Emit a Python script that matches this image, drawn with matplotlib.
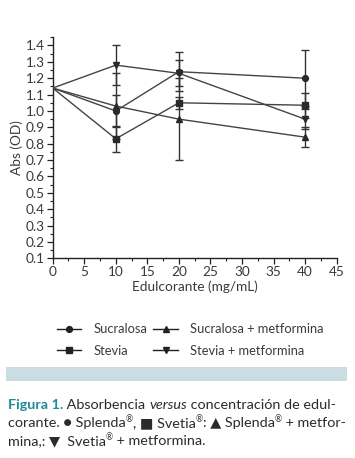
import matplotlib
matplotlib.use("Agg")
import matplotlib.pyplot as plt
from matplotlib.ticker import MultipleLocator
from matplotlib.lines import Line2D

# ---- data ----
conc = [0, 10, 20, 40]
sucralosa = [1.14, 1.00, 1.24, 1.20]
sucralosa_err = [0.0, 0.10, 0.12, 0.17]
stevia = [1.14, 0.83, 1.05, 1.035]
stevia_err = [0.0, 0.08, 0.035, 0.075]
sucralosa_met = [1.14, 1.03, 0.95, 0.84]
sucralosa_met_err = [0.0, 0.20, 0.25, 0.06]
stevia_met = [1.14, 1.28, 1.23, 0.95]
stevia_met_err = [0.0, 0.12, 0.08, 0.06]

labels = ["Sucralosa", "Stevia", "Sucralosa + metformina", "Stevia + metformina"]
series = [sucralosa, stevia, sucralosa_met, stevia_met]
errors = [sucralosa_err, stevia_err, sucralosa_met_err, stevia_met_err]
markers = ["o", "s", "^", "v"]

FONT = ["Lato", "DejaVu Sans"]
plt.rcParams["font.family"] = FONT

W, H = 355, 458
fig = plt.figure(figsize=(W / 100, H / 100), dpi=100)
fig.patch.set_facecolor("white")

ax = fig.add_axes([52.7 / W, 1 - 258.3 / H, (336.7 - 52.7) / W, (258.3 - 37.3) / H])
ax.set_facecolor("white")

line_col = "#444444"
handles = []
for ys, es, m, lab in zip(series, errors, markers, labels):
    ax.errorbar(conc[1:], ys[1:], yerr=es[1:], fmt="none", ecolor="#333333",
                elinewidth=1.0, capsize=2.6, capthick=1.0, zorder=2)
    ax.plot(conc, ys, color=line_col, lw=1.0, marker=m, markevery=[1, 2, 3],
            markersize=4.2, markerfacecolor="#2a2a2a", markeredgecolor="#2a2a2a", zorder=3)
    handles.append(Line2D([], [], color="#222222", lw=1.0, marker=m, markersize=4.2,
                          markerfacecolor="#222222", markeredgecolor="#222222", label=lab))

ax.set_xlim(0, 45)
ax.xaxis.set_major_locator(MultipleLocator(5))
ax.xaxis.set_minor_locator(MultipleLocator(2.5))
ax.yaxis.set_minor_locator(MultipleLocator(0.05))
ax.set_yticks([round(0.1 * i, 1) for i in range(1, 15)])
ax.set_yticklabels([f"{0.1 * i:.1f}" for i in range(1, 15)])
ax.set_ylim(0.1, 1.45)

for s in ["top", "right"]:
    ax.spines[s].set_visible(False)
for s in ["left", "bottom"]:
    ax.spines[s].set_color("#222222")
    ax.spines[s].set_linewidth(1.0)

ax.tick_params(axis="both", which="major", direction="out", length=4, width=0.9,
               colors="#222222", labelsize=9.8, labelcolor="#3a3a3a", pad=1.5)
ax.tick_params(axis="both", which="minor", direction="out", length=2.5, width=0.8,
               colors="#222222")

ax.set_xlabel("Edulcorante (mg/mL)", fontsize=9.8, color="#3a3a3a", labelpad=2)
ax.set_ylabel("Abs (OD)", fontsize=9.8, color="#3a3a3a", labelpad=2)

leg = fig.legend(handles=handles, ncol=2, loc="center", bbox_to_anchor=(190 / W, 1 - 340 / H),
                 frameon=False, fontsize=9.3, handlelength=1.9, handletextpad=0.9,
                 columnspacing=0.5, labelspacing=0.75, labelcolor="#3a3a3a")

# band
fig.patches.append(plt.Rectangle((6 / W, 1 - 381 / H), (347 - 6) / W, 14 / H,
                                 transform=fig.transFigure, facecolor="#c9dde3",
                                 edgecolor="none"))

# caption
fig.canvas.draw()
renderer = fig.canvas.get_renderer()
FS = 10.4


def write_line(pieces, x0, y):
    x = x0
    for txt, kw in pieces:
        kw = dict(kw)
        sup = kw.pop("sup", False)
        fs = FS * 0.6 if sup else FS
        yy = y - (4.5 if sup else 0)
        t = fig.text(x / W, 1 - yy / H, txt, va="baseline", ha="left", fontsize=fs,
                     family=FONT, **kw)
        bb = t.get_window_extent(renderer=renderer)
        x += bb.width


dark = "#2b2b2b"
teal = "#1f8c99"
N = dict(color=dark)
S = dict(color=dark, sup=True)
write_line([("Figura 1.", dict(color=teal, fontweight="bold")),
            (" Absorbencia ", N),
            ("versus", dict(color=dark, style="italic")),
            (" concentración de edul-", N)], 8, 409)
write_line([("corante. ● Splenda", N), ("®", S), (", ■ Svetia", N), ("®", S),
            (": ▲ Splenda", N), ("®", S), (" + metfor-", N)], 8, 427)
write_line([("mina,: ▼  Svetia", N), ("®", S), (" + metformina.", N)], 8, 445)

fig.savefig("out.png", dpi=100, facecolor="white")
